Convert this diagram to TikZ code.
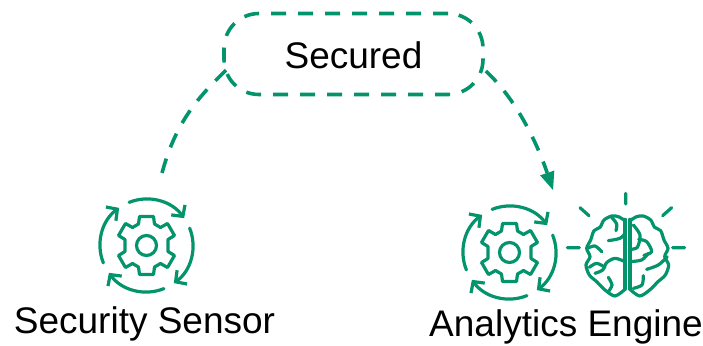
\documentclass[tikz,border=0pt]{standalone}
\usepackage{fontspec}
\setmainfont{Liberation Sans}
\usetikzlibrary{arrows.meta,calc}
\definecolor{gr}{HTML}{03946C}
\tikzset{
 x=1pt,y=-1pt,
 dashline/.style={draw=gr,line width=3.6pt,dash pattern=on 15pt off 12pt},
 icon/.style={draw=gr,line width=3.2pt,line cap=round,line join=round},
 lab/.style={font=\fontsize{37}{40}\selectfont,text=black,inner sep=0pt},
 pics/gearcycle/.style={code={
  \foreach \r in {0,90,180,270}{
   \draw[icon,rotate=\r,-{Straight Barb[length=8pt,width=17pt,line width=3.2pt]}] (-112:46.5) arc[start angle=-112,end angle=-36,radius=46.5];
  }
  \draw[icon] (0,0) circle[radius=10];
  \draw[icon] plot coordinates {(-7,-29)(7,-29)(8,-21.5)(14,-18)(21,-22)(28,-10)(21.5,-6)(21.5,6)(28,10)(21,22)(14,18)(8,21.5)(7,29)(-7,29)(-8,21.5)(-14,18)(-21,22)(-28,10)(-21.5,6)(-21.5,-6)(-28,-10)(-21,-22)(-14,-18)(-8,-21.5)} -- cycle;
 }}
}
\begin{document}
\begin{tikzpicture}
\useasboundingbox (0,0) rectangle (703,345);
\node[lab] (sec) at (353.5,55) {Secured};
\node[draw=gr,dashline,rounded corners=35pt,minimum width=259pt,minimum height=81pt,inner sep=0pt] (box) at (353.5,54) {};
\node[lab,anchor=base] (sens) at (144.5,333) {Security Sensor};
\node[lab,anchor=base] (eng) at (566,336) {Analytics Engine};
\path (146.5,245.5) pic {gearcycle};
\path (509.5,252.5) pic {gearcycle};
\coordinate (st) at (162,173);
\coordinate (en) at (553,190);
\coordinate (boxl) at ($(box.west)+(4,16)$);
\coordinate (boxr) at ($(box.east)+(1,17)$);
\draw[dashline] (st) .. controls (175,125) and (195,100) .. (boxl);
\draw[dashline,-{Triangle[length=18pt,width=15pt,line width=0pt,sep=0pt]}] (boxr) .. controls (515,98) and (536,140) .. (en);
\begin{scope}[shift={(450,180)},x=0.3333pt,y=-0.3333pt]
 \draw[icon] (527,40)--(527,72) (390,83)--(417,107) (665,83)--(638,107) (352,203)--(388,203) (668,203)--(704,203);
\end{scope}
\begin{scope}[shift={(580,210)},x=0.3333pt,y=-0.3333pt]
 \draw[icon] (135,28)--(135,238) (150,28)--(150,238);
 \draw[icon] plot[smooth] coordinates {(135,32)(115,20)(95,18)(72,30)(60,52)(42,62)(32,90)(20,115)(30,140)(18,165)(28,195)(50,215)(75,240)(105,258)(135,238)};
 \draw[icon] plot[smooth] coordinates {(150,32)(170,20)(190,18)(212,30)(224,52)(242,62)(252,90)(264,115)(254,140)(266,165)(256,195)(234,215)(209,240)(179,258)(150,238)};
 \draw[icon] plot[smooth] coordinates {(95,22)(110,42)(108,62)};
 \draw[icon] plot[smooth] coordinates {(135,70)(120,85)(85,92)};
 \draw[icon] plot[smooth] coordinates {(22,115)(45,108)(65,125)};
 \draw[icon] plot[smooth] coordinates {(135,155)(105,145)(80,158)(68,180)(45,190)};
 \draw[icon] plot[smooth] coordinates {(28,172)(50,160)(75,172)};
 \draw[icon] plot[smooth] coordinates {(85,202)(96,225)(85,245)};
 \draw[icon] plot[smooth] coordinates {(160,45)(180,75)(172,112)(150,118)};
 \draw[icon] plot[smooth] coordinates {(176,88)(200,95)(215,125)(192,136)};
 \draw[icon] plot[smooth] coordinates {(150,155)(185,150)(205,130)};
 \draw[icon] plot[smooth] coordinates {(200,178)(235,165)(262,140)};
 \draw[icon] plot[smooth] coordinates {(190,197)(186,225)(160,235)};
\end{scope}
\end{tikzpicture}
\end{document}
